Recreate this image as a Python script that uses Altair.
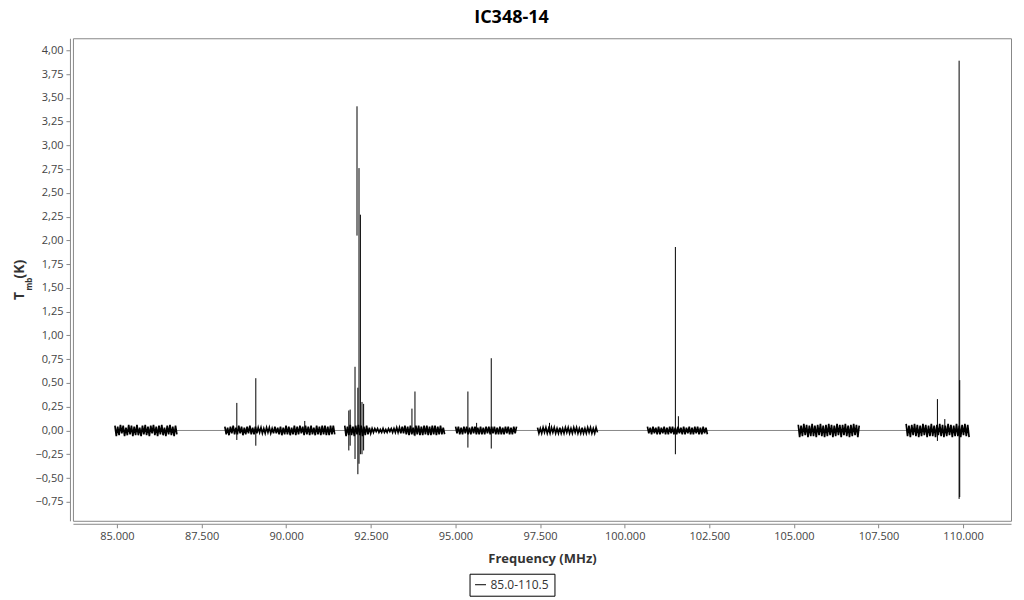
import altair as alt
import pandas as pd

# ---------------- data ----------------
chart_title = "IC348-14"
series_name = "85.0-110.5"

# noise segments: start / end frequency (MHz) and Tmb values (K) per channel
seg_start = [84941, 88188, 91730, 95006, 97426, 100673, 105130, 108317]
seg_end = [86771, 91434, 94681, 96806, 99197, 102444, 106930, 110177]

seg1 = [0.05,-0.06,0.04,-0.05,0.06,-0.03,0.05,-0.06,0.03,-0.05,0.06,-0.04,0.05,-0.06,0.04,-0.05,
        0.06,-0.05,0.03,-0.06,0.05,-0.04,0.06,-0.05,0.04,-0.06,0.05,-0.03,0.06,-0.05,0.04,-0.06,
        0.05,-0.04,0.06,-0.05,0.03,-0.06,0.05,-0.04,0.06,-0.05,0.04,-0.06,0.05,-0.04]
seg2 = [0.04,-0.04,0.03,-0.05,0.04,-0.03,0.05,-0.04,0.03,-0.04,0.05,-0.03,0.04,-0.05,0.03,-0.04,
        0.04,-0.03,0.05,-0.04,0.03,-0.04,0.04,-0.03,0.03,-0.02,0.03,-0.03,0.02,-0.03,0.03,-0.02,
        0.03,-0.03,0.02,-0.03,0.04,-0.03,0.03,-0.04,0.04,-0.05,0.03,-0.04,0.05,-0.04,0.04,-0.05,
        0.03,-0.04,0.05,-0.05,0.04,-0.04,0.05,-0.03,0.04,-0.05,0.05,-0.04,0.04,-0.05,0.05,-0.04,
        0.03,-0.05,0.05,-0.04,0.04,-0.05,0.05,-0.04,0.05,-0.05,0.04,-0.05,0.05,-0.04,0.05,-0.04]
seg3 = [0.05,-0.06,0.04,-0.05,0.06,-0.05,0.04,-0.06,0.05,-0.04,0.06,-0.05,0.05,-0.06,0.04,-0.05,
        0.05,-0.04,0.03,-0.03,0.02,-0.02,0.02,-0.01,0.02,-0.02,0.01,-0.02,0.02,-0.02,0.01,-0.02,
        0.02,-0.01,0.02,-0.02,0.02,-0.02,0.03,-0.02,0.03,-0.03,0.04,-0.03,0.05,-0.04,0.04,-0.05,
        0.05,-0.04,0.03,-0.05,0.05,-0.04,0.05,-0.05,0.04,-0.05,0.05,-0.04,0.05,-0.05,0.04,-0.05,
        0.05,-0.04,0.05,-0.05,0.04,-0.04,0.05,-0.04,0.03,-0.04]
seg4 = [0.04,-0.03,0.04,-0.04,0.03,-0.04,0.04,-0.03,0.04,-0.04,0.03,-0.04,0.04,-0.03,0.04,-0.04,
        0.03,-0.04,0.04,-0.04,0.03,-0.04,0.04,-0.03,0.04,-0.04,0.04,-0.03,0.04,-0.04,0.03,-0.04,
        0.04,-0.04,0.03,-0.04,0.04,-0.03,0.04,-0.04,0.03,-0.04,0.04,-0.03,0.04]
seg5 = [0.03,-0.03,0.02,-0.03,0.03,-0.02,0.03,-0.03,0.02,-0.03,0.03,-0.02,0.03,-0.03,0.02,-0.03,
        0.03,-0.03,0.02,-0.03,0.03,-0.02,0.03,-0.03,0.02,-0.03,0.03,-0.02,0.03,-0.03,0.02,-0.03,
        0.03,-0.03,0.02,-0.03,0.03,-0.02,0.03,-0.03,0.02,-0.03,0.03,-0.02]
seg6 = [0.04,-0.03,0.03,-0.04,0.04,-0.03,0.03,-0.04,0.04,-0.04,0.03,-0.03,0.04,-0.04,0.03,-0.04,
        0.04,-0.03,0.04,-0.04,0.03,-0.04,0.04,-0.03,0.03,-0.04,0.04,-0.04,0.03,-0.03,0.04,-0.04,
        0.03,-0.04,0.04,-0.03,0.04,-0.04,0.03,-0.04,0.04,-0.03,0.03,-0.04]
seg7 = [0.06,-0.07,0.05,-0.06,0.07,-0.05,0.06,-0.07,0.05,-0.06,0.07,-0.06,0.05,-0.07,0.06,-0.05,
        0.07,-0.06,0.05,-0.07,0.06,-0.06,0.07,-0.05,0.06,-0.07,0.05,-0.06,0.07,-0.05,0.06,-0.07,
        0.06,-0.05,0.07,-0.06,0.05,-0.07,0.06,-0.06,0.07,-0.05,0.06,-0.07,0.05]
seg8 = [0.07,-0.06,0.05,-0.07,0.06,-0.05,0.07,-0.06,0.06,-0.07,0.05,-0.06,0.07,-0.05,0.06,-0.07,
        0.05,-0.06,0.07,-0.06,0.05,-0.07,0.06,-0.05,0.07,-0.06,0.06,-0.07,0.05,-0.06,0.07,-0.05,
        0.06,-0.07,0.05,-0.06,0.07,-0.06,0.05,-0.07,0.06,-0.05,0.07,-0.06,0.06,-0.07]
seg_values = [seg1, seg2, seg3, seg4, seg5, seg6, seg7, seg8]

# narrow lines: frequency (MHz), peak and trough (K)
line_freq = [88542, 89103, 90549, 91851, 91890, 92034, 92093, 92118, 92152, 92193, 92240, 92288,
             93716, 93805, 95369, 95626, 96059, 97780, 101499, 101588, 109241, 109459, 109882, 109900]
line_top = [0.29, 0.55, 0.10, 0.21, 0.22, 0.67, 3.41, 0.45, 2.76, 2.27, 0.30, 0.28,
            0.23, 0.41, 0.41, 0.08, 0.76, 0.08, 1.93, 0.15, 0.33, 0.12, 3.89, 0.53]
line_bottom = [-0.10, -0.16, -0.02, -0.21, -0.16, -0.30, 2.05, -0.46, -0.35, -0.25, -0.25, -0.21,
               -0.02, -0.06, -0.18, -0.02, -0.19, -0.02, -0.25, -0.02, -0.11, -0.03, -0.72, -0.70]

x_ticks = [85000, 87500, 90000, 92500, 95000, 97500, 100000, 102500, 105000, 107500, 110000]
y_ticks = [-0.75, -0.5, -0.25, 0.0, 0.25, 0.5, 0.75, 1.0, 1.25, 1.5, 1.75, 2.0, 2.25, 2.5,
           2.75, 3.0, 3.25, 3.5, 3.75, 4.0]

# ---------------- tables ----------------
rows = []
for k, (s, e, vals) in enumerate(zip(seg_start, seg_end, seg_values)):
    n = len(vals)
    step = (e - s) / (n - 1)
    for i, v in enumerate(vals):
        rows.append({"freq": s + i * step, "tmb": v, "seg": k, "series": series_name})
spec = pd.DataFrame(rows)
lines = pd.DataFrame({"freq": line_freq, "top": line_top, "bottom": line_bottom})
base_df = pd.DataFrame({"f0": [seg_start[0]], "f1": [seg_end[-1]], "zero": [0.0]})

FONT = "Open Sans"
xscale = alt.Scale(domain=[83700, 111415], nice=False, zero=False)
yscale = alt.Scale(domain=[-0.95, 4.126], nice=False, zero=False)

xaxis = alt.Axis(values=x_ticks, labelExpr="replace(format(datum.value, ',.0f'), ',', '.')",
                 title="Frequency (MHz)", grid=False, offset=3, tickSize=4, labelOverlap=False,
                 labelFontSize=11, labelColor="#444", titleFontSize=13, titleColor="#333",
                 titleFontWeight="bold", titlePadding=11, labelPadding=3,
                 domainColor="#888", tickColor="#888", labelFont=FONT, titleFont=FONT)
yaxis = alt.Axis(values=y_ticks, labelExpr="replace(format(datum.value, '.2f'), '.', ',')",
                 title=None, grid=False, offset=3, tickSize=4, labelOverlap=False,
                 labelFontSize=11, labelColor="#444", labelPadding=3, labelBound=False,
                 domainColor="#888", tickColor="#888", labelFont=FONT)

baseline = alt.Chart(base_df).mark_rule(color="#888", strokeWidth=1).encode(
    x=alt.X("f0:Q", scale=xscale, axis=xaxis),
    x2="f1:Q",
    y=alt.Y("zero:Q", scale=yscale, axis=yaxis),
)

noise = alt.Chart(spec).mark_line(strokeWidth=1.7).encode(
    x=alt.X("freq:Q", scale=xscale, axis=xaxis),
    y=alt.Y("tmb:Q", scale=yscale, axis=yaxis),
    detail="seg:N",
    color=alt.Color("series:N", scale=alt.Scale(range=["black"]),
                    legend=alt.Legend(title=None, orient="none", legendX=397, legendY=536,
                                      strokeColor="black", padding=5, symbolType="stroke",
                                      symbolStrokeWidth=1, symbolSize=120, labelFontSize=12,
                                      labelColor="#333", labelFont=FONT)),
)

spikes = alt.Chart(lines).mark_rule(color="black", strokeWidth=1).encode(
    x=alt.X("freq:Q", scale=xscale, axis=xaxis),
    y=alt.Y("top:Q", scale=yscale, axis=yaxis),
    y2="bottom:Q",
)

title_mark = alt.Chart(pd.DataFrame({"t": [chart_title]})).mark_text(
    align="center", baseline="alphabetic", fontSize=18, fontWeight="bold",
    font=FONT, color="black").encode(x=alt.value(439), y=alt.value(-15), text="t:N")

ytitle_T = alt.Chart(pd.DataFrame({"t": ["T"]})).mark_text(
    angle=270, align="center", baseline="middle", fontSize=14, fontWeight="bold",
    font=FONT, color="#333").encode(x=alt.value(-53), y=alt.value(258), text="t:N")
ytitle_mb = alt.Chart(pd.DataFrame({"t": ["mb"]})).mark_text(
    angle=270, align="center", baseline="middle", fontSize=8, fontWeight="bold",
    font=FONT, color="#333").encode(x=alt.value(-43), y=alt.value(246), text="t:N")
ytitle_K = alt.Chart(pd.DataFrame({"t": ["(K)"]})).mark_text(
    angle=270, align="center", baseline="middle", fontSize=14, fontWeight="bold",
    font=FONT, color="#333").encode(x=alt.value(-53), y=alt.value(231), text="t:N")

chart = alt.layer(baseline, noise, spikes, title_mark, ytitle_T, ytitle_mb, ytitle_K).properties(
    width=939, height=483,
    padding={"left": 5, "top": 1, "right": 5, "bottom": 2},
).configure_view(stroke="#888", strokeWidth=1).configure_axis(labelOverlap=False)

chart.save("out.html", embed_options={"renderer": "svg", "actions": False})
